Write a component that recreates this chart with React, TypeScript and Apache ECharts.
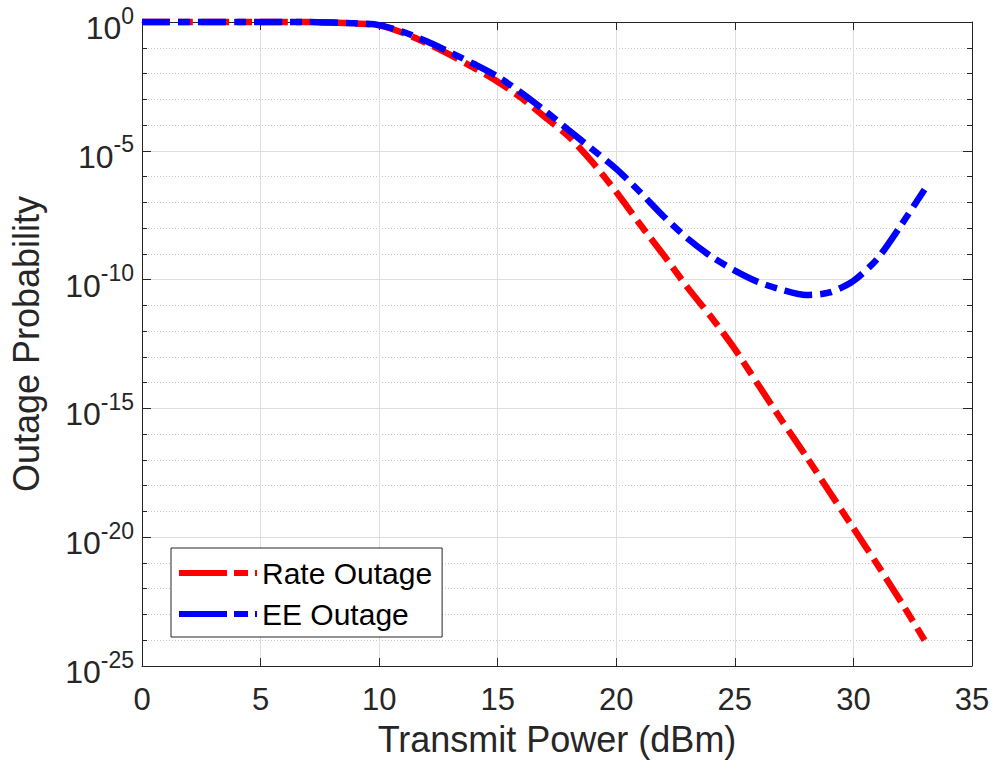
import React, { useEffect, useRef } from 'react';
import * as echarts from 'echarts';

// Transmit power sweep (dBm)
const powerDbm = [
  0, 1, 2, 3, 4, 5, 6, 7, 8, 9, 10, 11, 12, 13, 14, 15, 16,
  17, 18, 19, 20, 21, 22, 23, 24, 25, 26, 27, 28, 29, 30, 31, 32, 33,
];

// Rate outage probability per power level
const rateOutage = [
  1, 1, 1, 1, 1, 1, 1, 1, 0.955, 0.871, 0.741, 0.38, 0.151, 0.0525, 0.0166,
  4.79e-3, 1.12e-3, 2.0e-4, 3.55e-5, 3.55e-6, 2.51e-7, 1.41e-8, 8.9e-10,
  5.0e-11, 3.55e-12, 2.0e-13, 7.9e-15, 3.16e-16, 1.41e-17, 5.6e-19, 2.24e-20,
  8.9e-22, 3.16e-23, 1.0e-24,
];

// Energy-efficiency outage probability per power level
const eeOutage = [
  1, 1, 1, 1, 1, 1, 1, 1, 0.955, 0.891, 0.759, 0.417, 0.178, 0.0661, 0.0234,
  7.59e-3, 1.78e-3, 3.55e-4, 6.31e-5, 1.12e-5, 2.0e-6, 2.51e-7, 2.82e-8,
  3.98e-9, 7.94e-10, 2.24e-10, 7.94e-11, 3.98e-11, 2.51e-11, 3.16e-11,
  8.91e-11, 6.31e-10, 1.26e-8, 3.16e-7,
];

const seriesNames = ['Rate Outage', 'EE Outage'];

const X_MIN = 0;
const X_MAX = 35;
const X_STEP = 5;
const Y_MIN = 1e-25;
const Y_MAX = 1;
// decade exponents spanned by the probability axis
const DECADE_MIN = -25;
const DECADE_MAX = 0;
const DECADE_LABEL_STEP = 5;

const FONT = '"Liberation Sans", Arial, Helvetica, sans-serif';
const AXIS_COLOR = '#262626';
const MAJOR_GRID = '#dedede';
const MINOR_GRID = '#c4c4c4';

// dashed legend swatch: long dash, gap, short dash, sliver
const LEGEND_SWATCH = 'path://M0,0H48V6H0Z M55,0H69V6H55Z M76,0H78V6H76Z';

export default function App() {
  const ref = useRef<HTMLDivElement>(null);

  useEffect(() => {
    const chart = echarts.init(ref.current!, null, { renderer: 'svg' });

    const axisLine = { show: true, onZero: false, lineStyle: { color: AXIS_COLOR, width: 1 } };
    const noLine = { show: false, onZero: false };
    const tick = (length: number) => ({
      show: true,
      inside: true,
      length,
      lineStyle: { color: AXIS_COLOR, width: 1 },
    });
    const decadeAxis = (position: 'left' | 'right', step: number) => ({
      type: 'value',
      min: DECADE_MIN,
      max: DECADE_MAX,
      interval: step,
      position,
    });

    chart.setOption({
      animation: false,
      backgroundColor: '#ffffff',
      grid: { left: 142, top: 22, right: 22, bottom: 103, containLabel: false, outerBoundsMode: 'none' },
      legend: {
        data: seriesNames.map((name) => ({ name, icon: LEGEND_SWATCH })),
        orient: 'vertical',
        left: 171,
        top: 548,
        itemWidth: 78,
        itemHeight: 6,
        itemGap: 7,
        padding: [8, 10, 6, 8],
        backgroundColor: '#ffffff',
        borderColor: AXIS_COLOR,
        borderWidth: 1,
        borderRadius: 0,
        textStyle: { fontSize: 30, fontFamily: FONT, color: '#000000', lineHeight: 34 },
      },
      xAxis: [
        {
          type: 'value',
          min: X_MIN,
          max: X_MAX,
          interval: X_STEP,
          position: 'bottom',
          axisLine,
          axisTick: tick(8),
          axisLabel: { fontSize: 31, fontFamily: FONT, color: AXIS_COLOR, margin: 18 },
          splitLine: { show: true, lineStyle: { color: MAJOR_GRID, width: 1 } },
          name: 'Transmit Power (dBm)',
          nameLocation: 'middle',
          nameGap: 55,
          nameTextStyle: { fontSize: 36, fontFamily: FONT, color: AXIS_COLOR },
        },
        {
          type: 'value',
          min: X_MIN,
          max: X_MAX,
          interval: X_STEP,
          position: 'top',
          axisLine,
          axisTick: tick(8),
          axisLabel: { show: false },
          splitLine: { show: false },
        },
      ],
      yAxis: [
        {
          // logarithmic probability scale carrying both curves
          type: 'log',
          logBase: 10,
          min: Y_MIN,
          max: Y_MAX,
          position: 'left',
          axisLine,
          axisTick: { show: false },
          axisLabel: { show: false },
          splitLine: { show: false },
        },
        {
          // every decade: dotted grid and short ticks
          ...decadeAxis('left', 1),
          axisLine: noLine,
          axisTick: tick(5),
          axisLabel: { show: false },
          splitLine: { show: true, lineStyle: { color: MINOR_GRID, width: 1, type: [1, 2] } },
          name: 'Outage Probability',
          nameLocation: 'middle',
          nameRotate: 90,
          nameGap: 98,
          nameTextStyle: { fontSize: 36, fontFamily: FONT, color: AXIS_COLOR },
        },
        {
          // every fifth decade: solid grid, long ticks and 10^n labels
          ...decadeAxis('left', DECADE_LABEL_STEP),
          axisLine: noLine,
          axisTick: tick(9),
          axisLabel: {
            margin: 8,
            showMinLabel: true,
            showMaxLabel: true,
            formatter: (v: number) => `{b|10}{s|${Math.round(v)}}`,
            rich: {
              b: { fontSize: 32, fontFamily: FONT, color: AXIS_COLOR, lineHeight: 36, padding: [12, 0, 0, 0] },
              s: { fontSize: 23, fontFamily: FONT, color: AXIS_COLOR, lineHeight: 34, verticalAlign: 'top' },
            },
          },
          splitLine: { show: true, lineStyle: { color: MAJOR_GRID, width: 1 } },
        },
        {
          ...decadeAxis('right', 1),
          axisLine,
          axisTick: tick(5),
          axisLabel: { show: false },
          splitLine: { show: false },
        },
        {
          ...decadeAxis('right', DECADE_LABEL_STEP),
          axisLine: noLine,
          axisTick: tick(9),
          axisLabel: { show: false },
          splitLine: { show: false },
        },
      ],
      series: [
        {
          name: seriesNames[0],
          type: 'line',
          xAxisIndex: 0,
          yAxisIndex: 0,
          data: powerDbm.map((p, i) => [p, rateOutage[i]]),
          symbol: 'none',
          smooth: 0.25,
          clip: false,
          color: '#ff0000',
          lineStyle: { color: '#ff0000', width: 6.5, type: [28, 8, 15, 8], cap: 'butt' },
          z: 3,
        },
        {
          name: seriesNames[1],
          type: 'line',
          xAxisIndex: 0,
          yAxisIndex: 0,
          data: powerDbm.map((p, i) => [p, eeOutage[i]]),
          symbol: 'none',
          smooth: 0.25,
          clip: false,
          color: '#0000ff',
          lineStyle: { color: '#0000ff', width: 6.5, type: [28, 8, 12, 8], cap: 'butt' },
          z: 4,
        },
      ],
    });

    return () => chart.dispose();
  }, []);

  return (
    <div
      ref={ref}
      style={{ position: 'absolute', left: 0, top: 0, width: 994, height: 769, background: '#ffffff' }}
    />
  );
}
